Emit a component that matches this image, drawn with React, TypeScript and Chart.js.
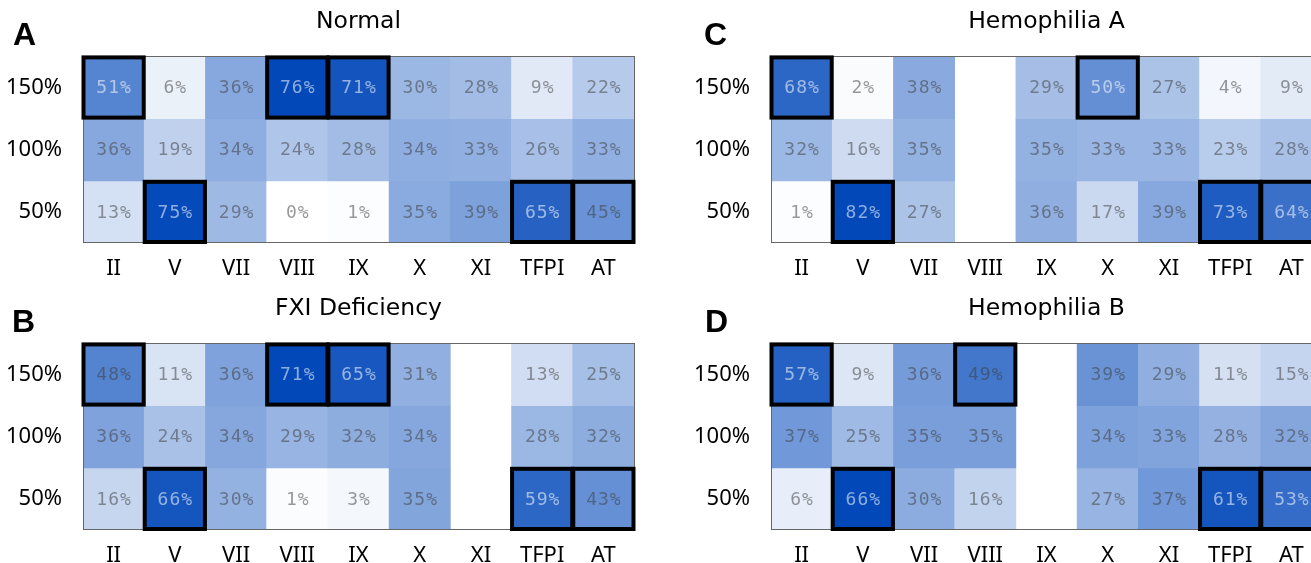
import React, { useEffect, useRef } from "react";
import { Chart, registerables } from "chart.js";

Chart.register(...registerables);
Chart.defaults.font.family = "'Noto Sans', sans-serif";

const factors = ["II", "V", "VII", "VIII", "IX", "X", "XI", "TFPI", "AT"];
const levels = ["150%", "100%", "50%"];

// Normal
const normal150 = [51, 6, 36, 76, 71, 30, 28, 9, 22];
const normal100 = [36, 19, 34, 24, 28, 34, 33, 26, 33];
const normal50 = [13, 75, 29, 0, 1, 35, 39, 65, 45];
const normalMarked = [["150%", "II"], ["150%", "VIII"], ["150%", "IX"], ["50%", "V"], ["50%", "TFPI"], ["50%", "AT"]];

// FXI deficiency
const fxi150 = [48, 11, 36, 71, 65, 31, null, 13, 25];
const fxi100 = [36, 24, 34, 29, 32, 34, null, 28, 32];
const fxi50 = [16, 66, 30, 1, 3, 35, null, 59, 43];
const fxiMarked = [["150%", "II"], ["150%", "VIII"], ["150%", "IX"], ["50%", "V"], ["50%", "TFPI"], ["50%", "AT"]];

// Hemophilia A
const hemA150 = [68, 2, 38, null, 29, 50, 27, 4, 9];
const hemA100 = [32, 16, 35, null, 35, 33, 33, 23, 28];
const hemA50 = [1, 82, 27, null, 36, 17, 39, 73, 64];
const hemAMarked = [["150%", "II"], ["150%", "X"], ["50%", "V"], ["50%", "TFPI"], ["50%", "AT"]];

// Hemophilia B
const hemB150 = [57, 9, 36, 49, null, 39, 29, 11, 15];
const hemB100 = [37, 25, 35, 35, null, 34, 33, 28, 32];
const hemB50 = [6, 66, 30, 16, null, 27, 37, 61, 53];
const hemBMarked = [["150%", "II"], ["150%", "VIII"], ["50%", "V"], ["50%", "TFPI"], ["50%", "AT"]];

type Val = number | null;
interface PanelDef {
  letter: string;
  title: string;
  rows: Val[][];
  marked: string[][];
  left: number;
  top: number;
  letterX: number;
}

const panels: PanelDef[] = [
  { letter: "A", title: "Normal", rows: [normal150, normal100, normal50], marked: normalMarked, left: 0, top: 0, letterX: 13 },
  { letter: "B", title: "FXI Deficiency", rows: [fxi150, fxi100, fxi50], marked: fxiMarked, left: 0, top: 287, letterX: 12 },
  { letter: "C", title: "Hemophilia A", rows: [hemA150, hemA100, hemA50], marked: hemAMarked, left: 688, top: 0, letterX: 16 },
  { letter: "D", title: "Hemophilia B", rows: [hemB150, hemB100, hemB50], marked: hemBMarked, left: 688, top: 287, letterX: 17 },
];

const CW = 655;
const CH = 287;
const DARK = [2, 72, 185];

function cellColor(v: Val, max: number): string {
  if (v == null) return "rgba(0,0,0,0)";
  const f = Math.max(0, Math.min(1, v / max));
  const c = DARK.map((d) => Math.round(255 - (255 - d) * f));
  return `rgb(${c[0]},${c[1]},${c[2]})`;
}

function Panel({ def }: { def: PanelDef }) {
  const ref = useRef<HTMLCanvasElement | null>(null);
  useEffect(() => {
    const canvas = ref.current;
    if (!canvas) return;
    const all = def.rows.flat().filter((v) => v != null) as number[];
    const max = Math.max(...all);

    const cellPlugin = {
      id: "cellPlugin",
      afterDatasetsDraw(chart: any) {
        const ctx = chart.ctx;
        const area = chart.chartArea;
        ctx.save();
        // value labels
        ctx.font = "18px 'DejaVu Sans Mono', monospace";
        try {
          (ctx as any).letterSpacing = "1px";
        } catch (e) {}
        ctx.textAlign = "center";
        ctx.textBaseline = "middle";
        def.rows.forEach((row, r) => {
          const meta = chart.getDatasetMeta(r);
          row.forEach((v, i) => {
            if (v == null) return;
            const el = meta.data[i];
            const p = el.getProps(["x", "y", "base"], true);
            ctx.fillStyle = v >= 50 ? "rgba(255,255,255,0.55)" : "rgba(60,60,60,0.52)";
            ctx.fillText(`${v}%`, p.x + 0.5, (p.y + p.base) / 2 + 1);
          });
        });
        try {
          (ctx as any).letterSpacing = "0px";
        } catch (e) {}
        // frame
        ctx.strokeStyle = "#666";
        ctx.lineWidth = 1;
        ctx.strokeRect(
          Math.round(area.left) + 0.5,
          Math.round(area.top) + 0.5,
          Math.round(area.right - area.left),
          Math.round(area.bottom - area.top) - 1
        );
        // highlighted cells
        ctx.strokeStyle = "#000";
        ctx.lineWidth = 4;
        def.marked.forEach(([lv, f]) => {
          const r = levels.indexOf(lv);
          const i = factors.indexOf(f);
          const el = chart.getDatasetMeta(r).data[i];
          const p = el.getProps(["x", "y", "base", "width"], true);
          const top = Math.min(p.y, p.base);
          const h = Math.abs(p.base - p.y);
          ctx.strokeRect(p.x - p.width / 2 + 0.5, top + 1, p.width - 1, h - 2);
        });
        ctx.restore();
      },
      afterDraw(chart: any) {
        const ctx = chart.ctx;
        ctx.save();
        ctx.font = "bold 32px 'Liberation Sans', Arial, sans-serif";
        ctx.fillStyle = "#000";
        ctx.textAlign = "left";
        ctx.textBaseline = "alphabetic";
        ctx.fillText(def.letter, def.letterX, 45);
        ctx.restore();
      },
    };

    const chart = new Chart(canvas, {
      type: "bar",
      data: {
        labels: factors,
        datasets: levels.map((lv, r) => ({
          label: lv,
          data: def.rows[r].map((v) => (v == null ? null : [2 - r, 3 - r])) as any,
          backgroundColor: def.rows[r].map((v) => cellColor(v, max)),
          borderWidth: 0,
          grouped: false,
          barPercentage: 1,
          categoryPercentage: 1,
        })),
      },
      options: {
        responsive: false,
        animation: false,
        events: [],
        layout: { padding: { left: 0, right: CW - 634, top: 0, bottom: 0 } },
        plugins: {
          legend: { display: false },
          tooltip: { enabled: false },
          title: {
            display: true,
            text: def.title,
            fullSize: false,
            color: "#000",
            font: { family: "'DejaVu Sans', sans-serif", size: 23.5, weight: "normal" },
            padding: { top: 8, bottom: 20.2 },
          },
        },
        scales: {
          x: {
            type: "category",
            offset: true,
            grid: { display: false, drawTicks: false },
            border: { display: false },
            ticks: {
              color: "#000",
              font: { size: 22 },
              padding: 13,
              maxRotation: 0,
              autoSkip: false,
            },
            afterFit: (s: any) => {
              s.height = 44;
            },
          },
          y: {
            type: "linear",
            min: 0,
            max: 3,
            grid: { display: false, drawTicks: false },
            border: { display: false },
            afterBuildTicks: (ax: any) => {
              ax.ticks = [0.5, 1.5, 2.5].map((value) => ({ value }));
            },
            ticks: {
              color: "#000",
              font: { size: 22 },
              padding: 21,
              callback: (v: any) => levels[2 - Math.floor(Number(v))],
            },
            afterFit: (s: any) => {
              s.width = 83;
            },
          },
        },
      },
      plugins: [cellPlugin],
    } as any);
    return () => chart.destroy();
  }, [def]);

  return (
    <canvas
      ref={ref}
      width={CW}
      height={CH}
      style={{ position: "absolute", left: def.left, top: def.top, width: CW, height: CH }}
    />
  );
}

export default function App() {
  return (
    <div
      style={{
        position: "fixed",
        left: 0,
        top: 0,
        width: 1311,
        height: 563,
        overflow: "hidden",
        background: "#fff",
      }}
    >
      {panels.map((p) => (
        <Panel key={p.letter} def={p} />
      ))}
    </div>
  );
}
